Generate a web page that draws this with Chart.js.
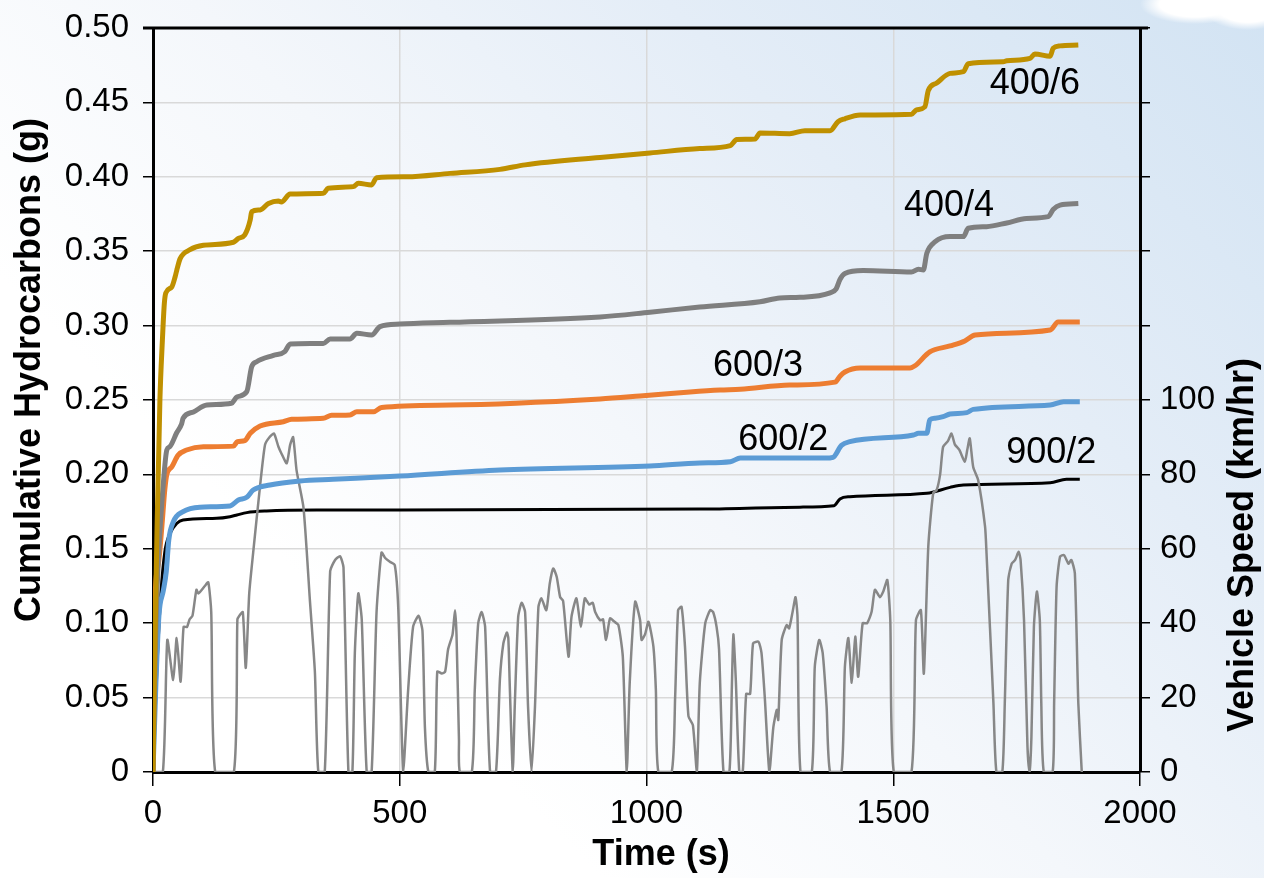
<!DOCTYPE html>
<html>
<head>
<meta charset="utf-8">
<script src="https://cdn.jsdelivr.net/npm/chart.js@4.4.1/dist/chart.umd.min.js"></script>
<style>
    body {
        margin: 0;
        width: 1264px;
        height: 878px;
        overflow: hidden;
        background:
            radial-gradient(ellipse 55px 20px at 1195px 4px, #ffffff 65%, rgba(255, 255, 255, 0) 100%),
            radial-gradient(ellipse 45px 22px at 1248px 8px, #ffffff 65%, rgba(255, 255, 255, 0) 100%),
            linear-gradient(225deg, #d2e3f3 0%, #e4edf7 28%, #f4f7fb 50%, #ffffff 72%);
    }
    canvas { display: block; }
</style>
</head>
<body>
<canvas id="chart" width="1264" height="878"></canvas>
<script>

// Data: vehicle speed (km/hr) over time (s)

const speedTime = [0, 20, 29, 41, 48, 56, 62, 69, 74, 80, 88, 92, 105, 112, 118, 126, 164, 171, 175, 182, 188, 195, 203, 217, 227, 236, 245, 254, 260, 271, 278, 284, 291, 305, 318, 328, 335, 348, 359, 369, 379, 386, 396, 404, 409, 416, 423, 433, 443, 453, 463, 470, 480, 490, 497, 507, 517, 527, 538, 546, 551, 558, 571, 576, 585, 592, 598, 607, 612, 615, 620, 622, 646, 652, 659, 666, 673, 683, 695, 703, 710, 717, 720, 723, 729, 733, 740, 747, 754, 760, 767, 774, 781, 787, 797, 804, 811, 818, 825, 831, 842, 848, 858, 867, 875, 884, 891, 896, 906, 912, 918, 926, 934, 943, 952, 960, 966, 977, 987, 990, 997, 1004, 1014, 1019, 1024, 1051, 1058, 1064, 1071, 1078, 1085, 1094, 1102, 1108, 1119, 1129, 1135, 1142, 1147, 1156, 1168, 1173, 1176, 1181, 1188, 1195, 1202, 1210, 1216, 1227, 1233, 1240, 1249, 1257, 1264, 1267, 1274, 1284, 1289, 1296, 1302, 1306, 1312, 1335, 1341, 1350, 1357, 1365, 1372, 1395, 1402, 1409, 1416, 1423, 1429, 1438, 1447, 1456, 1463, 1473, 1480, 1488, 1494, 1501, 1537, 1546, 1556, 1562, 1571, 1581, 1588, 1595, 1601, 1611, 1618, 1625, 1634, 1645, 1650, 1655, 1662, 1672, 1686, 1689, 1703, 1709, 1721, 1726, 1733, 1740, 1747, 1754, 1758, 1765, 1772, 1776, 1780, 1785, 1791, 1797, 1800, 1805, 1823, 1826, 1831, 1838, 1846, 1855, 1861, 1868, 1875, 1882];
const speedKmh = [0, 0, 35.5, 24.7, 36, 24.3, 39, 39, 41, 42, 49, 48, 50, 51, 43, 0, 0, 41, 42, 43, 28, 48, 59, 77, 88, 90, 91, 87.5, 85.7, 83, 88, 90, 81, 71, 46, 27, 0, 0, 54, 57, 58, 55, 0, 0, 32, 48, 41, 0, 0, 43, 59, 57.6, 56.5, 55.6, 44, 0, 22, 39, 42, 38, 12, 0, 0, 27, 26.5, 27, 33, 37, 43.5, 37, 8.6, 0, 0, 22, 40, 43, 39, 0, 0, 25, 34.6, 37.5, 36, 23, 0, 17.5, 41.7, 45.5, 43, 17.5, 0, 17.5, 44.4, 46.7, 43.5, 50.7, 54.7, 52.5, 47, 46, 31, 41.7, 46.7, 39, 46.7, 45, 45.5, 43, 40.8, 41, 35.5, 41.3, 40.5, 39.5, 31, 0, 24, 45.8, 40.8, 35.5, 37, 40.4, 33.7, 22, 0, 0, 20, 43.5, 44.4, 33.7, 15, 12.6, 0, 24, 40, 43.5, 43, 39, 33, 0, 0, 23, 37, 24.7, 0, 0, 21, 21, 34.6, 35, 32, 19.4, 0, 12, 16.7, 14, 35.5, 39.5, 38.6, 43, 47, 41.7, 0, 0, 28.3, 35.5, 32, 17.5, 0, 0, 28.3, 36, 24, 36.4, 25.6, 40, 40, 43, 49, 47, 48.6, 51.6, 40.8, 0, 0, 40.8, 43.5, 26.5, 60.6, 75, 75.8, 80, 87.4, 89, 91, 88, 86.6, 83.4, 86.6, 89.7, 82, 78.5, 66, 58.8, 18.5, 0, 0, 18.5, 51.6, 56, 57, 59.2, 57, 40.8, 6.8, 0, 9.5, 39, 48.5, 40.8, 18.5, 0, 0, 18.5, 49.8, 57.9, 58.3, 56, 57, 53.4, 18.5, 0];

// Data: cumulative hydrocarbons (g) over time (s)

const hc4006Time = [0, 3, 8, 14, 19, 23, 26, 38, 45, 48, 55, 75, 102, 163, 173, 186, 197, 200, 217, 234, 254, 260, 278, 345, 355, 406, 416, 443, 453, 514, 602, 703, 754, 906, 1007, 1108, 1170, 1183, 1220, 1230, 1290, 1321, 1372, 1388, 1402, 1433, 1537, 1547, 1564, 1571, 1588, 1615, 1642, 1652, 1723, 1730, 1777, 1787, 1818, 1824, 1838, 1875];
const hc4006 = [0, 0.07, 0.16, 0.25, 0.29, 0.315, 0.322, 0.326, 0.333, 0.337, 0.345, 0.351, 0.354, 0.356, 0.3586, 0.361, 0.371, 0.3766, 0.3777, 0.382, 0.3837, 0.383, 0.3884, 0.3889, 0.3923, 0.3934, 0.3956, 0.3945, 0.3994, 0.400, 0.4023, 0.405, 0.408, 0.413, 0.416, 0.419, 0.421, 0.425, 0.4254, 0.4294, 0.429, 0.431, 0.431, 0.437, 0.439, 0.4415, 0.442, 0.445, 0.447, 0.458, 0.463, 0.4695, 0.4706, 0.476, 0.4773, 0.478, 0.4796, 0.4825, 0.481, 0.4864, 0.488, 0.4886];

const hc4004Time = [0, 6, 12, 20, 28, 34, 48, 58, 61, 82, 109, 159, 170, 190, 200, 210, 244, 267, 278, 345, 359, 399, 413, 443, 460, 500, 602, 906, 1007, 1108, 1230, 1270, 1311, 1372, 1384, 1392, 1402, 1439, 1537, 1551, 1561, 1568, 1585, 1615, 1642, 1652, 1689, 1730, 1770, 1814, 1824, 1838, 1875];
const hc4004 = [0, 0.1, 0.15, 0.19, 0.2164, 0.2186, 0.228, 0.234, 0.2377, 0.242, 0.2466, 0.2478, 0.252, 0.2556, 0.2724, 0.2757, 0.280, 0.2825, 0.2876, 0.288, 0.291, 0.291, 0.2948, 0.2937, 0.2993, 0.301, 0.3022, 0.3058, 0.309, 0.3125, 0.316, 0.3186, 0.319, 0.322, 0.3245, 0.331, 0.335, 0.337, 0.336, 0.3378, 0.3374, 0.3486, 0.3564, 0.3598, 0.3598, 0.3654, 0.3665, 0.369, 0.372, 0.3732, 0.378, 0.381, 0.382];

const hc6003Time = [0, 4, 11, 18, 24, 28, 38, 51, 68, 102, 163, 171, 186, 197, 217, 264, 281, 345, 362, 399, 413, 447, 463, 602, 906, 987, 1088, 1149, 1190, 1290, 1382, 1392, 1402, 1433, 1534, 1544, 1574, 1615, 1645, 1666, 1818, 1834, 1878];
const hc6003 = [0, 0.115, 0.14, 0.165, 0.19, 0.2, 0.205, 0.213, 0.2164, 0.2186, 0.219, 0.222, 0.2227, 0.2276, 0.2325, 0.2354, 0.237, 0.2377, 0.2397, 0.24, 0.2421, 0.2421, 0.245, 0.2466, 0.2507, 0.2527, 0.2554, 0.2567, 0.2572, 0.26, 0.262, 0.266, 0.2688, 0.2715, 0.2715, 0.273, 0.2823, 0.2863, 0.2897, 0.2937, 0.297, 0.3024, 0.3024];

const hc6002Time = [0, 6, 12, 21, 27, 32, 41, 61, 95, 156, 173, 190, 203, 237, 298, 365, 500, 703, 1007, 1108, 1170, 1190, 1362, 1378, 1395, 1412, 1541, 1551, 1568, 1574, 1585, 1601, 1615, 1649, 1662, 1818, 1845, 1878];
const hc6002 = [0, 0.06, 0.105, 0.122, 0.135, 0.156, 0.168, 0.175, 0.178, 0.1788, 0.1828, 0.1846, 0.1895, 0.1929, 0.1956, 0.1967, 0.1989, 0.203, 0.2056, 0.2077, 0.2085, 0.211, 0.211, 0.2115, 0.2195, 0.222, 0.2265, 0.2276, 0.2276, 0.2366, 0.2377, 0.2388, 0.2406, 0.2415, 0.2437, 0.2466, 0.2489, 0.2489];

const hc9002Time = [0, 8, 16, 24, 34, 48, 61, 129, 156, 170, 190, 230, 332, 500, 1108, 1311, 1380, 1392, 1412, 1568, 1615, 1642, 1818, 1851, 1878];
const hc9002 = [0, 0.07, 0.12, 0.148, 0.160, 0.167, 0.1694, 0.1705, 0.1716, 0.1727, 0.1743, 0.1754, 0.176, 0.176, 0.1767, 0.178, 0.179, 0.1835, 0.185, 0.1873, 0.1913, 0.1929, 0.1944, 0.1967, 0.1967];

// Axis ticks

const timeTicks = [0, 500, 1000, 1500, 2000];
const hcTicks = [0, 0.05, 0.10, 0.15, 0.20, 0.25, 0.30, 0.35, 0.40, 0.45, 0.50];
const speedTicks = [0, 20, 40, 60, 80, 100];

// Helpers

const FONT = "'Liberation Sans', Arial, sans-serif";

function toPoints(times, values) {
    return times.map((t, i) => ({ x: t, y: values[i] }));
}

function hcLine(label, times, values, color, width, order) {
    return {
        label: label,
        data: toPoints(times, values),
        borderColor: color,
        borderWidth: width,
        pointRadius: 0,
        cubicInterpolationMode: "monotone",
        yAxisID: "y",
        order: order,
    };
}

// vertical axes: fixed width, no extra top/bottom room for the end labels
function fixVertical(width) {
    return scale => {
        scale.width = width;
        scale.paddingTop = 0;
        scale.paddingBottom = 0;
    };
}

// Series labels (placed in data units)

const seriesLabels = [
    { text: "400/6", t: 1787, g: 0.4624 },
    { text: "400/4", t: 1613, g: 0.380 },
    { text: "600/3", t: 1226, g: 0.2728 },
    { text: "600/2", t: 1277, g: 0.2231 },
    { text: "900/2", t: 1820, g: 0.2145 },
];

const textPlugin = {
    id: "textPlugin",
    afterDraw(chart) {
        const { ctx, chartArea, scales: { x, y } } = chart;

        ctx.save();

        // top border running slightly past the right axis
        ctx.strokeStyle = "#000";
        ctx.lineWidth = 3;
        ctx.beginPath();
        ctx.moveTo(chartArea.left - 10, chartArea.top);
        ctx.lineTo(chartArea.right + 8, chartArea.top);
        ctx.stroke();

        ctx.fillStyle = "#000";
        ctx.textAlign = "center";
        ctx.textBaseline = "middle";

        ctx.font = "36px " + FONT;
        seriesLabels.forEach(item => {
            ctx.fillText(item.text, x.getPixelForValue(item.t), y.getPixelForValue(item.g));
        });

        ctx.font = "bold 36px " + FONT;
        ctx.fillText("Time (s)", 661, 855);

        ctx.save();
        ctx.translate(30, 370);
        ctx.rotate(-Math.PI / 2);
        ctx.fillText("Cumulative Hydrocarbons (g)", 0, 0);
        ctx.restore();

        ctx.save();
        ctx.translate(1243, 545);
        ctx.rotate(-Math.PI / 2);
        ctx.fillText("Vehicle Speed (km/hr)", 0, 0);
        ctx.restore();

        ctx.restore();
    }
};

// Chart

Chart.defaults.color = "#000";
Chart.defaults.font.family = FONT;
Chart.defaults.plugins.legend.display = false;
Chart.defaults.plugins.tooltip.enabled = false;

const chartCtx = document.getElementById("chart");

let hcChart = new Chart(chartCtx, {
    type: "line",
    data: {
        datasets: [
            hcLine("400/6", hc4006Time, hc4006, "#BF9000", 5, 1),
            hcLine("400/4", hc4004Time, hc4004, "#7F7F7F", 5, 2),
            hcLine("600/3", hc6003Time, hc6003, "#ED7D31", 5, 3),
            hcLine("600/2", hc6002Time, hc6002, "#5B9BD5", 5, 4),
            {
                label: "Vehicle Speed",
                data: toPoints(speedTime, speedKmh),
                borderColor: "#878787",
                borderWidth: 2.5,
                pointRadius: 0,
                tension: 0.2,
                yAxisID: "y2",
                order: 5,
            },
            hcLine("900/2", hc9002Time, hc9002, "#000000", 3, 6),
        ],
    },
    options: {
        responsive: false,
        animation: false,
        layout: {
            padding: { top: 28, left: 0, right: 0, bottom: 0 },
        },
        scales: {
            x: {
                type: "linear",
                min: timeTicks[0],
                max: timeTicks[timeTicks.length - 1],
                afterBuildTicks: scale => {
                    scale.ticks = timeTicks.map(v => ({ value: v }));
                },
                ticks: {
                    font: { size: 33 },
                    padding: 8,
                    maxRotation: 0,
                    callback: v => String(v),
                },
                grid: {
                    color: c => (c.tick && (c.tick.value === 0 || c.tick.value === 2000)) ? "rgba(0,0,0,0)" : "#d9d9d9",
                    lineWidth: 1.5,
                    tickColor: "#000",
                    tickLength: 14,
                },
                border: { display: true, color: "#000", width: 3 },
                afterFit: scale => {
                    scale.height = 106;
                    scale.paddingLeft = 0;
                    scale.paddingRight = 0;
                },
            },
            y: {
                position: "left",
                min: 0,
                max: 0.5,
                afterBuildTicks: scale => {
                    scale.ticks = hcTicks.map(v => ({ value: v }));
                },
                ticks: {
                    font: { size: 33 },
                    padding: 14,
                    callback: v => v === 0 ? "0" : v.toFixed(2),
                },
                grid: {
                    color: c => (c.tick && Math.abs(c.tick.value - 0.5) < 1e-9) ? "#000" : "#d9d9d9",
                    lineWidth: 1.5,
                    tickColor: "#000",
                    tickLength: 10,
                },
                border: { display: true, color: "#000", width: 3 },
                afterFit: fixVertical(153),
            },
            y2: {
                position: "right",
                min: 0,
                max: 200,
                afterBuildTicks: scale => {
                    let marks = [];
                    for (let v = 0; v <= 200; v += 20) marks.push({ value: v });
                    scale.ticks = marks;
                },
                ticks: {
                    font: { size: 33 },
                    padding: 10,
                    callback: v => speedTicks.includes(v) ? String(v) : "",
                },
                grid: {
                    drawOnChartArea: false,
                    tickColor: "#000",
                    tickLength: 10,
                    lineWidth: 1.5,
                },
                border: { display: true, color: "#000", width: 3 },
                afterFit: fixVertical(124),
            },
        },
    },
    plugins: [textPlugin],
});
</script>
</body>
</html>
